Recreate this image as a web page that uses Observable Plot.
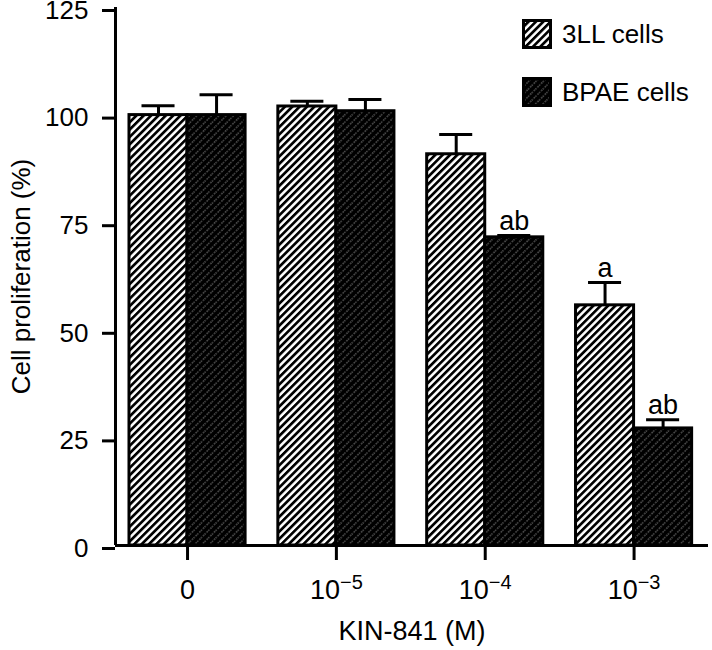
<!DOCTYPE html>
<html><head><meta charset="utf-8">
<script src="https://cdn.jsdelivr.net/npm/d3@7"></script>
<script src="https://cdn.jsdelivr.net/npm/@observablehq/plot@0.6"></script>
<style>
body{margin:0;background:#fff;font-family:"Liberation Sans",Arial,Helvetica,sans-serif;}
#wrap{position:relative;width:712px;height:650px;}
.legend{position:absolute;left:522px;top:19px;font-size:26px;color:#000;}
.item{display:flex;align-items:center;height:30px;margin-bottom:28px;}
.item svg{margin-right:10px;display:block;}
</style></head><body><div id="wrap"></div>
<script>
// ---- data ----
const doses = ["0", "10^-5", "10^-4", "10^-3"];
const seriesNames = ["3LL cells", "BPAE cells"];
const lllMean = [100, 102, 90.9, 55.8];
const lllErr  = [2.2, 1.2, 4.6, 5.3];
const lllSig  = ["", "", "", "a"];
const bpaeMean = [100, 100.9, 71.6, 27.2];
const bpaeErr  = [4.7, 2.7, 0.4, 2.0];
const bpaeSig  = ["", "", "ab", "ab"];
const yTicks = [0, 25, 50, 75, 100, 125];

// ---- layout constants ----
const barHalf = 0.39;   // bar width in group units
const capHalf = 0.111;  // error cap half width

const rows = [];
doses.forEach((d, i) => {
  rows.push({i, series: seriesNames[0], mean: lllMean[i], err: lllErr[i], sig: lllSig[i],
             x1: i - barHalf, x2: i});
  rows.push({i, series: seriesNames[1], mean: bpaeMean[i], err: bpaeErr[i], sig: bpaeSig[i],
             x1: i, x2: i + barHalf});
});
rows.forEach(r => { r.xc = (r.x1 + r.x2) / 2; r.top = r.mean + r.err; });

const fam = '"Liberation Sans", Arial, Helvetica, sans-serif';
const chart = Plot.plot({
  width: 712, height: 650,
  marginLeft: 115, marginRight: 4, marginTop: 7, marginBottom: 105,
  style: {fontFamily: fam, fontSize: "26px", color: "#000", background: "#fff", overflow: "visible"},
  x: {domain: [-0.484, 3.5]},
  y: {domain: [0, 125]},
  marks: [
    Plot.rectY(rows.filter(r => r.series === seriesNames[0]),
      {x1: "x1", x2: "x2", y1: 0, y2: "mean", fill: "url(#p3ll)", stroke: "#000", strokeWidth: 3}),
    Plot.rectY(rows.filter(r => r.series === seriesNames[1]),
      {x1: "x1", x2: "x2", y1: 0, y2: "mean", fill: "url(#pbpae)", stroke: "#000", strokeWidth: 3}),
    Plot.ruleX(rows, {x: "xc", y1: "mean", y2: "top", stroke: "#000", strokeWidth: 3}),
    Plot.ruleY(rows, {y: "top", x1: r => r.xc - capHalf, x2: r => r.xc + capHalf, stroke: "#000", strokeWidth: 3}),
    Plot.text(rows.filter(r => r.sig), {x: "xc", y: "top", text: "sig", dy: -6, lineAnchor: "bottom", fontSize: 27, fill: "#000"}),
    Plot.ruleY([0], {stroke: "#000", strokeWidth: 3}),
    Plot.ruleX([-0.484], {stroke: "#000", strokeWidth: 3}),
    Plot.axisY({ticks: yTicks, tickSize: 13, tickPadding: 14, strokeWidth: 3, fontSize: 26, dy: 3,
      label: "Cell proliferation (%)", labelAnchor: "center", labelOffset: 104, labelArrow: false}),
    Plot.axisX({ticks: [0, 1, 2, 3], tickFormat: i => doses[i], tickSize: 15, tickPadding: 19, strokeWidth: 3, fontSize: 27,
      label: "KIN-841 (M)", labelAnchor: "center", labelOffset: 94, labelArrow: false})
  ]
});

// pattern defs
const defs = d3.select(chart).insert("defs", ":first-child");
const p1 = defs.append("pattern").attr("id", "p3ll").attr("patternUnits", "userSpaceOnUse")
  .attr("width", 5.2).attr("height", 5.2).attr("patternTransform", "rotate(45)");
p1.append("rect").attr("width", 5.2).attr("height", 5.2).attr("fill", "#fff");
p1.append("rect").attr("width", 2.7).attr("height", 5.2).attr("fill", "#000");
const p2 = defs.append("pattern").attr("id", "pbpae").attr("patternUnits", "userSpaceOnUse")
  .attr("width", 5.2).attr("height", 5.2).attr("patternTransform", "rotate(45)");
p2.append("rect").attr("width", 5.2).attr("height", 5.2).attr("fill", "#000");
p2.append("line").attr("x1", 2.6).attr("x2", 2.6).attr("y1", 0).attr("y2", 5.2)
  .attr("stroke", "#8a8a8a").attr("stroke-width", 0.9).attr("stroke-dasharray", "1.6 1.4");

// superscript tick labels
d3.select(chart).selectAll('[aria-label="x-axis tick label"] text').each(function() {
  const t = this.textContent;
  const m = t.match(/^10\^(-?\d+)$/);
  if (m) {
    this.textContent = "";
    const s = d3.select(this);
    s.append("tspan").text("10");
    s.append("tspan").attr("dy", "-0.5em").attr("font-size", "20px").text(m[1].replace("-", "\u2212"));
  }
});

const wrap = document.getElementById("wrap");
wrap.appendChild(chart);

// legend
const legend = document.createElement("div");
legend.className = "legend";
legend.innerHTML = [["p3ll", seriesNames[0]], ["pbpae", seriesNames[1]]].map(([p, name]) =>
  `<div class="item"><svg width="30" height="30"><rect x="1.5" y="1.5" width="27" height="27" fill="url(#${p})" stroke="#000" stroke-width="3"/></svg><span>${name}</span></div>`
).join("");
wrap.appendChild(legend);
</script>
</body></html>
